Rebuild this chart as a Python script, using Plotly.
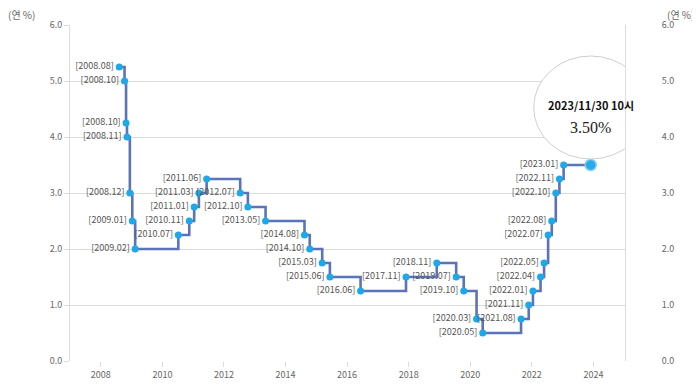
import plotly.graph_objects as go

dates = ["2008-08-07", "2008-10-09", "2008-10-27", "2008-11-07", "2008-12-11", "2009-01-09",
         "2009-02-12", "2010-07-09", "2010-11-16", "2011-01-13", "2011-03-10", "2011-06-10",
         "2012-07-12", "2012-10-11", "2013-05-09", "2014-08-14", "2014-10-15", "2015-03-12",
         "2015-06-11", "2016-06-09", "2017-11-30", "2018-11-30", "2019-07-18", "2019-10-16",
         "2020-03-16", "2020-05-28", "2021-08-26", "2021-11-25", "2022-01-14", "2022-04-14",
         "2022-05-26", "2022-07-13", "2022-08-25", "2022-10-12", "2022-11-24", "2023-01-13",
         "2023-11-30"]
rates = [5.25, 5.00, 4.25, 4.00, 3.00, 2.50, 2.00, 2.25, 2.50, 2.75, 3.00, 3.25,
         3.00, 2.75, 2.50, 2.25, 2.00, 1.75, 1.50, 1.25, 1.50, 1.75, 1.50, 1.25,
         0.75, 0.50, 0.75, 1.00, 1.25, 1.50, 1.75, 2.25, 2.50, 3.00, 3.25, 3.50, 3.50]
labels = ["[2008.08]", "[2008.10]", "[2008.10]", "[2008.11]", "[2008.12]", "[2009.01]",
          "[2009.02]", "[2010.07]", "[2010.11]", "[2011.01]", "[2011.03]", "[2011.06]",
          "[2012.07]", "[2012.10]", "[2013.05]", "[2014.08]", "[2014.10]", "[2015.03]",
          "[2015.06]", "[2016.06]", "[2017.11]", "[2018.11]", "[2019.07]", "[2019.10]",
          "[2020.03]", "[2020.05]", "[2021.08]", "[2021.11]", "[2022.01]", "[2022.04]",
          "[2022.05]", "[2022.07]", "[2022.08]", "[2022.10]", "[2022.11]", "[2023.01]", ""]
tooltip_date = "2023/11/30 10시"
tooltip_value = "3.50%"
y_ticks = [0, 1, 2, 3, 4, 5, 6]
y_ticktext = ["0.0", "1.0", "2.0", "3.0", "4.0", "5.0", "6.0"]
axis_title = "(연 %)"

FONT = "Noto Sans CJK KR"
LINE = "#5b74b9"
MARK = "#1ea8e8"
GRID = "#dcdcdc"
TICKC = "#666666"

fig = go.Figure()
fig.add_trace(go.Scatter(
    x=dates, y=rates, mode="lines+markers+text", line=dict(shape="hv", color=LINE, width=2.6),
    marker=dict(size=7, color=MARK), text=labels, textposition="middle left",
    textfont=dict(family=FONT, size=9, color="#555555"), showlegend=False, cliponaxis=False))
fig.add_trace(go.Scatter(
    x=dates[-1:], y=rates[-1:], mode="markers",
    marker=dict(size=11, color="#2aaaea", line=dict(width=1.5, color="#7fcdf3")),
    showlegend=False))
fig.add_trace(go.Scatter(x=dates[:1], y=rates[:1], yaxis="y2", mode="markers",
                         marker=dict(opacity=0), showlegend=False, hoverinfo="skip"))

# tooltip bubble anchored at the last point
fig.add_shape(type="circle", xref="x", yref="y", xsizemode="pixel", ysizemode="pixel",
              xanchor=dates[-1], yanchor=rates[-1], x0=-57, x1=57, y0=6, y1=109,
              line=dict(color="#cfcfcf", width=1), fillcolor="white", layer="above")
fig.add_annotation(x=dates[-1], y=rates[-1], xref="x", yref="y", text="<b>" + tooltip_date + "</b>",
                   showarrow=False, yshift=60, font=dict(family=FONT, size=11, color="#111111"))
fig.add_annotation(x=dates[-1], y=rates[-1], xref="x", yref="y", text=tooltip_value,
                   showarrow=False, yshift=38, font=dict(family="Liberation Serif", size=16, color="#222222"))

fig.add_annotation(x=0, y=1, xref="paper", yref="paper", text=axis_title, showarrow=False,
                   xanchor="center", yanchor="middle", xshift=-49, yshift=11, borderpad=0,
                   font=dict(family=FONT, size=10, color=TICKC))
fig.add_annotation(x=1, y=1, xref="paper", yref="paper", text=axis_title, showarrow=False,
                   xanchor="center", yanchor="middle", xshift=55, yshift=11, borderpad=0,
                   font=dict(family=FONT, size=10, color=TICKC))

# page body adds an 8px margin, so the figure is sized to fit the 700x385 window
fig.update_layout(
    width=692, height=377, margin=dict(l=62, r=75, t=17, b=24, autoexpand=False),
    paper_bgcolor="white", plot_bgcolor="white", font=dict(family=FONT, size=9, color=TICKC),
    xaxis=dict(type="date", range=["2007-01-01", "2025-01-10"], tick0="2008-01-01", dtick="M24",
               tickformat="%Y", showgrid=False, showline=False, zeroline=False, automargin=False,
               ticks="outside", ticklen=5, tickcolor=GRID, tickfont=dict(size=9, color=TICKC)),
    yaxis=dict(range=[0, 6], tickvals=y_ticks, ticktext=y_ticktext, showgrid=True, gridcolor=GRID,
               gridwidth=1, zeroline=False, showline=True, linecolor=GRID, linewidth=1, automargin=False,
               ticks="outside", ticklen=5, tickcolor=GRID, tickfont=dict(size=9, color=TICKC)),
    yaxis2=dict(range=[0, 6], overlaying="y", side="right", tickvals=y_ticks, ticktext=y_ticktext,
                showgrid=False, zeroline=False, showline=True, linecolor=GRID, linewidth=1,
                automargin=False, ticklabelstandoff=34, tickfont=dict(size=9, color=TICKC)),
)

fig.write_html("out.html")
